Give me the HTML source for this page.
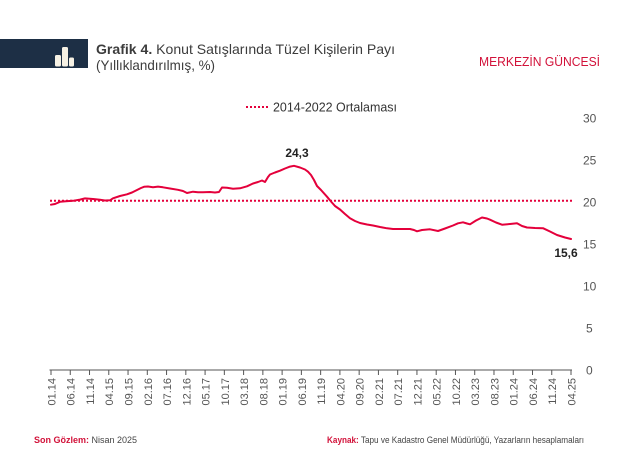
<!DOCTYPE html>
<html>
<head>
<meta charset="utf-8">
<style>
  html,body{margin:0;padding:0;background:#fff;}
  svg{display:block;}
  text{font-family:"Liberation Sans","DejaVu Sans",sans-serif;}
</style>
</head>
<body>
<svg width="627" height="470" viewBox="0 0 627 470" xmlns="http://www.w3.org/2000/svg">
  <rect width="627" height="470" fill="#fff"/>
  <!-- header box -->
  <rect x="0" y="39" width="88" height="29" fill="#1d2f45"/>
  <rect x="55" y="55" width="6" height="11.5" rx="1.5" fill="#f6f1e4"/>
  <rect x="62" y="47" width="6" height="19.5" rx="1.5" fill="#f6f1e4"/>
  <rect x="69" y="57.5" width="5" height="9" rx="1.5" fill="#f6f1e4"/>
  <!-- title -->
  <text x="96" y="54" font-size="14" fill="#3c3c3c" textLength="299" lengthAdjust="spacingAndGlyphs"><tspan font-weight="bold">Grafik 4.</tspan> Konut Satışlarında Tüzel Kişilerin Payı</text>
  <text x="96" y="70" font-size="14" fill="#3c3c3c" textLength="119" lengthAdjust="spacingAndGlyphs">(Yıllıklandırılmış, %)</text>
  <text x="479" y="66" font-size="13" fill="#d2123a" textLength="121" lengthAdjust="spacingAndGlyphs">MERKEZİN GÜNCESİ</text>

  <!-- legend -->
  <line x1="246" y1="107" x2="269" y2="107" stroke="#e4003b" stroke-width="2" stroke-dasharray="2,2"/>
  <text x="273" y="111.5" font-size="13" fill="#333" textLength="124" lengthAdjust="spacingAndGlyphs">2014-2022 Ortalaması</text>

  <!-- y labels -->
  <g font-size="12" fill="#555" text-anchor="start">
    <text x="583" y="122.5">30</text>
    <text x="583" y="164.5">25</text>
    <text x="583" y="206.5">20</text>
    <text x="583" y="248.5">15</text>
    <text x="583" y="290.5">10</text>
    <text x="586" y="332.5">5</text>
    <text x="586" y="374.5">0</text>
  </g>

  <!-- average dotted line -->
  <line x1="50" y1="200.7" x2="572" y2="200.7" stroke="#e4003b" stroke-width="2" stroke-dasharray="2,2"/>

  <!-- x axis -->
  <line x1="49.5" y1="370" x2="572" y2="370" stroke="#555" stroke-width="1"/>
  <g id="ticks" stroke="#555" stroke-width="1"></g>
  <g id="xlabels" font-size="11" fill="#555"></g>

  <!-- series -->
  <polyline fill="none" stroke="#e4003b" stroke-width="2" stroke-linejoin="round" stroke-linecap="round"
    points="51,204.7 55,204 60,201.8 66,201.2 73,200.8 80,199.6 85,198.4 93,199 100,199.8 105,200.5 110,200.3 113,198.3 120,196 127,194.3 132,192.5 137,190 141,188 144,186.8 148,186.5 153,187.2 158,186.6 163,187.3 170,188.5 178,189.8 183,191 187,193 193,191.7 198,192.2 203,192.2 210,192 215,192.5 219,192 222,187.5 227,187.8 233,188.7 240,188.3 247,186.3 253,183.5 258,182 262,180.5 265,182 268,177 270,174.5 275,172.5 280,170.7 285,168.5 290,166.6 294,165.8 300,167.5 305,169.5 308,171.7 311,175 314,180 317,186 321,190 327,196.7 331,201.5 335,206 340,209.5 345,214 350,218.3 355,221 360,223 367,224.5 373,225.5 380,227 387,228.3 393,229 400,229 410,229 414,230 417,231.3 422,230 430,229.3 438,231 445,228.5 453,225.5 458,223.3 463,222.3 467,223.5 470,224.3 476,220.5 482,217.5 487,218.5 490,219.7 496,222.5 502,224.7 510,224 517,223.3 522,226 527,227.5 535,228 543,228.2 550,231.5 557,235 565,237.5 571,239"/>

  <!-- annotations -->
  <text x="297" y="157" font-size="12" font-weight="bold" fill="#222" text-anchor="middle">24,3</text>
  <text x="566" y="257" font-size="12" font-weight="bold" fill="#222" text-anchor="middle">15,6</text>

  <!-- footer -->
  <text x="34" y="443" font-size="9" fill="#444"><tspan fill="#d2123a" font-weight="bold">Son Gözlem:</tspan> Nisan 2025</text>
  <text x="327" y="443" font-size="9" fill="#444" textLength="257" lengthAdjust="spacingAndGlyphs"><tspan fill="#d2123a" font-weight="bold">Kaynak:</tspan> Tapu ve Kadastro Genel Müdürlüğü, Yazarların hesaplamaları</text>

  <!-- static ticks and labels -->
  <g stroke="#555" stroke-width="1">
    <line x1="51" y1="370" x2="51" y2="375"/>
    <line x1="70.26" y1="370" x2="70.26" y2="375"/>
    <line x1="89.52" y1="370" x2="89.52" y2="375"/>
    <line x1="108.78" y1="370" x2="108.78" y2="375"/>
    <line x1="128.04" y1="370" x2="128.04" y2="375"/>
    <line x1="147.3" y1="370" x2="147.3" y2="375"/>
    <line x1="166.56" y1="370" x2="166.56" y2="375"/>
    <line x1="185.82" y1="370" x2="185.82" y2="375"/>
    <line x1="205.08" y1="370" x2="205.08" y2="375"/>
    <line x1="224.34" y1="370" x2="224.34" y2="375"/>
    <line x1="243.6" y1="370" x2="243.6" y2="375"/>
    <line x1="262.86" y1="370" x2="262.86" y2="375"/>
    <line x1="282.12" y1="370" x2="282.12" y2="375"/>
    <line x1="301.38" y1="370" x2="301.38" y2="375"/>
    <line x1="320.64" y1="370" x2="320.64" y2="375"/>
    <line x1="339.9" y1="370" x2="339.9" y2="375"/>
    <line x1="359.16" y1="370" x2="359.16" y2="375"/>
    <line x1="378.42" y1="370" x2="378.42" y2="375"/>
    <line x1="397.68" y1="370" x2="397.68" y2="375"/>
    <line x1="416.94" y1="370" x2="416.94" y2="375"/>
    <line x1="436.2" y1="370" x2="436.2" y2="375"/>
    <line x1="455.46" y1="370" x2="455.46" y2="375"/>
    <line x1="474.72" y1="370" x2="474.72" y2="375"/>
    <line x1="493.98" y1="370" x2="493.98" y2="375"/>
    <line x1="513.24" y1="370" x2="513.24" y2="375"/>
    <line x1="532.5" y1="370" x2="532.5" y2="375"/>
    <line x1="551.76" y1="370" x2="551.76" y2="375"/>
    <line x1="571" y1="370" x2="571" y2="375"/>
  </g>
  <g font-size="11" fill="#555" text-anchor="end">
    <text transform="translate(51.5,378) rotate(-90)" dy="0.36em">01.14</text>
    <text transform="translate(70.76,378) rotate(-90)" dy="0.36em">06.14</text>
    <text transform="translate(90.02,378) rotate(-90)" dy="0.36em">11.14</text>
    <text transform="translate(109.28,378) rotate(-90)" dy="0.36em">04.15</text>
    <text transform="translate(128.54,378) rotate(-90)" dy="0.36em">09.15</text>
    <text transform="translate(147.8,378) rotate(-90)" dy="0.36em">02.16</text>
    <text transform="translate(167.06,378) rotate(-90)" dy="0.36em">07.16</text>
    <text transform="translate(186.32,378) rotate(-90)" dy="0.36em">12.16</text>
    <text transform="translate(205.58,378) rotate(-90)" dy="0.36em">05.17</text>
    <text transform="translate(224.84,378) rotate(-90)" dy="0.36em">10.17</text>
    <text transform="translate(244.1,378) rotate(-90)" dy="0.36em">03.18</text>
    <text transform="translate(263.36,378) rotate(-90)" dy="0.36em">08.18</text>
    <text transform="translate(282.62,378) rotate(-90)" dy="0.36em">01.19</text>
    <text transform="translate(301.88,378) rotate(-90)" dy="0.36em">06.19</text>
    <text transform="translate(321.14,378) rotate(-90)" dy="0.36em">11.19</text>
    <text transform="translate(340.4,378) rotate(-90)" dy="0.36em">04.20</text>
    <text transform="translate(359.66,378) rotate(-90)" dy="0.36em">09.20</text>
    <text transform="translate(378.92,378) rotate(-90)" dy="0.36em">02.21</text>
    <text transform="translate(398.18,378) rotate(-90)" dy="0.36em">07.21</text>
    <text transform="translate(417.44,378) rotate(-90)" dy="0.36em">12.21</text>
    <text transform="translate(436.7,378) rotate(-90)" dy="0.36em">05.22</text>
    <text transform="translate(455.96,378) rotate(-90)" dy="0.36em">10.22</text>
    <text transform="translate(475.22,378) rotate(-90)" dy="0.36em">03.23</text>
    <text transform="translate(494.48,378) rotate(-90)" dy="0.36em">08.23</text>
    <text transform="translate(513.74,378) rotate(-90)" dy="0.36em">01.24</text>
    <text transform="translate(533,378) rotate(-90)" dy="0.36em">06.24</text>
    <text transform="translate(552.26,378) rotate(-90)" dy="0.36em">11.24</text>
    <text transform="translate(571.5,378) rotate(-90)" dy="0.36em">04.25</text>
  </g>
</svg>
</body>
</html>
